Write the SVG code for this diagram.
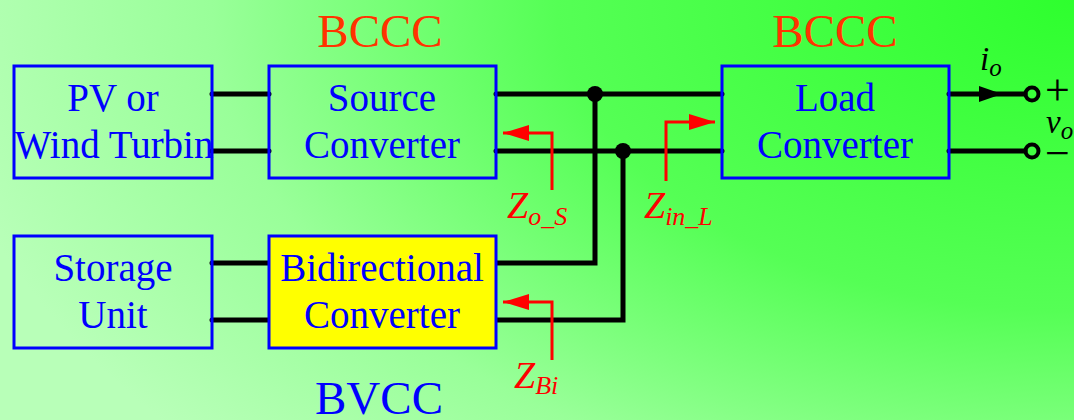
<svg xmlns="http://www.w3.org/2000/svg" width="1074" height="420" viewBox="0 0 1074 420">
<defs>
<radialGradient id="bg" gradientUnits="userSpaceOnUse" cx="1074" cy="0" r="1150" gradientTransform="translate(1074 0) scale(1 0.6) translate(-1074 0)">
<stop offset="0" stop-color="#2eff2e"/>
<stop offset="0.45" stop-color="#55ff55"/>
<stop offset="0.75" stop-color="#99ff99"/>
<stop offset="1" stop-color="#b8ffb8"/>
</radialGradient>
<marker id="ra" viewBox="0 0 26 16" refX="26" refY="8" markerWidth="26" markerHeight="16" markerUnits="userSpaceOnUse" orient="auto">
<path d="M0,0 L26,8 L0,16 Z" fill="#ff0000"/>
</marker>
</defs>
<style>
.box{fill:none;stroke:#0000ff;stroke-width:3}
.lbl{font-family:"Liberation Serif",serif;font-size:39px;fill:#0000ff;text-anchor:middle}
.wire{stroke:#000;stroke-width:5;fill:none;stroke-linecap:round}
.red{stroke:#ff0000;stroke-width:3;fill:none}
.zl{font-family:"Liberation Serif",serif;font-style:italic;fill:#ff0000}
.big{font-family:"Liberation Serif",serif;font-size:47px;text-anchor:middle}
.sym{font-family:"Liberation Serif",serif;fill:#000}
</style>
<rect x="0" y="0" width="1074" height="420" fill="url(#bg)"/>

<text class="big" x="380" y="47" fill="#ff3300">BCCC</text>
<text class="big" x="835" y="47" fill="#ff3300">BCCC</text>
<text class="big" x="379" y="414" fill="#0000ff">BVCC</text>

<g id="connectors">
<path class="wire" d="M212,94 H269 M212,151 H269"/>
<path class="wire" d="M212,263 H269 M212,320 H269"/>
<path class="wire" d="M496,94 H722 M496,151 H722"/>
<path class="wire" d="M595,94 V263 H496"/>
<path class="wire" d="M623,151 V320 H496"/>
<circle cx="595" cy="94" r="8" fill="#000"/>
<circle cx="623" cy="151" r="8" fill="#000"/>
<path class="wire" d="M949,94 H1025 M949,151 H1025"/>
<path d="M979,86 L1002,94 L979,102 Z" fill="#000"/>
<circle cx="1032" cy="94" r="6.5" fill="none" stroke="#000" stroke-width="4"/>
<circle cx="1032" cy="151" r="6.5" fill="none" stroke="#000" stroke-width="4"/>
<path class="red" d="M552,190 V133 H503" marker-end="url(#ra)"/>
<path class="red" d="M666,181 V122 H715" marker-end="url(#ra)"/>
<path class="red" d="M552,360 V302 H503" marker-end="url(#ra)"/>
</g>

<g id="pv">
<rect class="box" x="14" y="66" width="198" height="112"/>
<text class="lbl" x="113" y="111">PV or</text>
<text class="lbl" x="114" y="158" font-size="37">Wind Turbin</text>
</g>
<g id="source">
<rect class="box" x="269" y="66" width="227" height="112"/>
<text class="lbl" x="382" y="111">Source</text>
<text class="lbl" x="382" y="158">Converter</text>
</g>
<g id="load">
<rect class="box" x="722" y="66" width="227" height="112"/>
<text class="lbl" x="835" y="111">Load</text>
<text class="lbl" x="835" y="158">Converter</text>
</g>
<g id="storage">
<rect class="box" x="14" y="236" width="198" height="112"/>
<text class="lbl" x="113" y="281">Storage</text>
<text class="lbl" x="113" y="328">Unit</text>
</g>
<g id="bidirectional">
<rect x="269" y="236" width="227" height="112" fill="#ffff00" stroke="#0000ff" stroke-width="3"/>
<text class="lbl" x="382" y="281">Bidirectional</text>
<text class="lbl" x="382" y="328">Converter</text>
</g>

<g id="labels">
<text class="zl" x="507" y="218" font-size="38">Z<tspan font-size="26" dy="7">o_S</tspan></text>
<text class="zl" x="644" y="218" font-size="38">Z<tspan font-size="26" dy="7">in_L</tspan></text>
<text class="zl" x="514" y="388" font-size="38">Z<tspan font-size="26" dy="6">Bi</tspan></text>
<text class="sym" x="980" y="70" font-size="33" font-style="italic">i<tspan font-size="25" dy="6">o</tspan></text>
<text class="sym" x="1045" y="105" font-size="44">+</text>
<text class="sym" x="1046" y="133" font-size="33" font-style="italic">v<tspan font-size="25" dy="6">o</tspan></text>
<text class="sym" x="1045" y="168" font-size="44">−</text>
</g>
</svg>
